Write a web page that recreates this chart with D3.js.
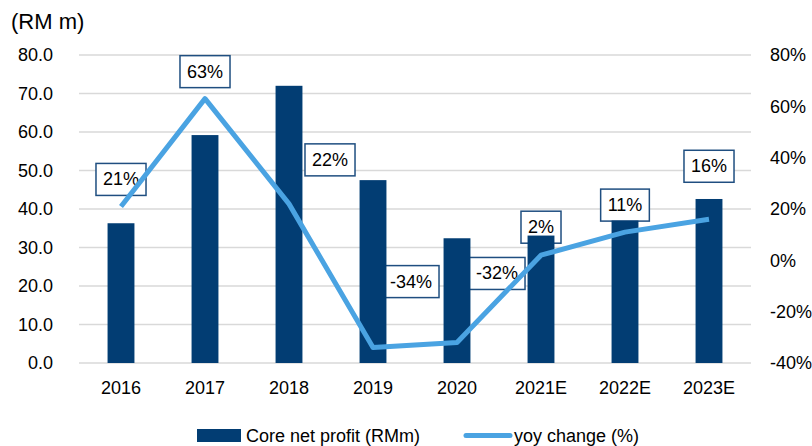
<!DOCTYPE html>
<html><head><meta charset="utf-8">
<script src="https://cdn.jsdelivr.net/npm/d3@7"></script>
<style>body{margin:0;background:#fff}svg{display:block}text{font-family:"Liberation Sans",Arial,sans-serif;fill:#000}</style>
</head><body><svg id="c" width="812" height="446"></svg>
<script>
const categories = ["2016","2017","2018","2019","2020","2021E","2022E","2023E"];
const profit = [36.3, 59.2, 72.0, 47.5, 32.4, 33.1, 37.0, 42.6];
const yoy = [21, 63, 22, -34, -32, 2, 11, 16];
const leftTicks = [0,10,20,30,40,50,60,70,80];
const rightTicks = [-40,-20,0,20,40,60,80];
const labelDx = [0, 0, 41, 38, 40, 0, 0, 0];
const labelDy = [-27, -27, -44, -66, -69, -28, -27, -53];

const svg = d3.select("#c");
const L = 79, R = 751, T = 55, B = 363;
const x = d3.scaleBand().domain(categories).range([L, R]).paddingInner(0.68).paddingOuter(0.34);
const y = d3.scaleLinear().domain([0, 80]).range([B, T]);
const y2 = d3.scaleLinear().domain([-40, 80]).range([B, T]);
const fs = 18;

// gridlines
svg.append("g").selectAll("line").data(leftTicks).join("line")
  .attr("x1", L).attr("x2", R).attr("y1", d => y(d)).attr("y2", d => y(d))
  .attr("stroke", "#d9d9d9").attr("stroke-width", 1.5);

// left axis
const ga = svg.append("g").attr("transform", `translate(${L},0)`)
  .call(d3.axisLeft(y).tickValues(leftTicks).tickFormat(d3.format(".1f")).tickSize(0).tickPadding(26));
ga.select(".domain").remove();
ga.selectAll("text").style("font-size", fs + "px").style("font-family", "Liberation Sans");

// right axis
const gr = svg.append("g").attr("transform", `translate(${R},0)`)
  .call(d3.axisRight(y2).tickValues(rightTicks).tickFormat(d => d + "%").tickSize(0).tickPadding(19));
gr.select(".domain").remove();
gr.selectAll("text").style("font-size", fs + "px").style("font-family", "Liberation Sans");

// x axis
const gx = svg.append("g").attr("transform", `translate(0,${B})`)
  .call(d3.axisBottom(x).tickSize(0).tickPadding(18));
gx.select(".domain").remove();
gx.selectAll("text").style("font-size", fs + "px").style("font-family", "Liberation Sans");

svg.append("text").attr("x", 11).attr("y", 29).style("font-size", "22px").text("(RM m)");

const barColor = "#023d73";
const lineColor = "#4aa3e2";
const cx = d => x(d) + x.bandwidth() / 2;

// labels (drawn beneath bars and line)
const lg = svg.append("g");
categories.forEach((c, i) => {
  const px = cx(c) + labelDx[i], py = y2(yoy[i]) + labelDy[i];
  const g = lg.append("g");
  const t = g.append("text").attr("x", px).attr("y", py).attr("text-anchor", "middle")
    .attr("dominant-baseline", "central").style("font-size", fs + "px").text(yoy[i] + "%");
  const w = t.node().getComputedTextLength() + 14;
  g.insert("rect", "text").attr("x", px - w / 2).attr("y", py - 16).attr("width", w).attr("height", 32)
    .attr("fill", "#fff").attr("stroke", "#1f4e80").attr("stroke-width", 1.5);
});

// bars
svg.append("g").selectAll("rect").data(categories).join("rect")
  .attr("x", d => x(d)).attr("width", x.bandwidth())
  .attr("y", (d, i) => y(profit[i])).attr("height", (d, i) => y(0) - y(profit[i]))
  .attr("fill", barColor);

// line
svg.append("path").datum(categories)
  .attr("d", d3.line().x(d => cx(d)).y((d, i) => y2(yoy[i])))
  .attr("fill", "none").attr("stroke", lineColor).attr("stroke-width", 5).attr("stroke-linejoin", "round");

// legend
svg.append("rect").attr("x", 197).attr("y", 429).attr("width", 44).attr("height", 13).attr("fill", barColor);
svg.append("text").attr("x", 246).attr("y", 442).style("font-size", fs + "px").text("Core net profit (RMm)");
svg.append("line").attr("x1", 466).attr("x2", 510).attr("y1", 435.5).attr("y2", 435.5)
  .attr("stroke", lineColor).attr("stroke-width", 5).attr("stroke-linecap", "round");
svg.append("text").attr("x", 514).attr("y", 442).style("font-size", fs + "px").text("yoy change (%)");
</script></body></html>
